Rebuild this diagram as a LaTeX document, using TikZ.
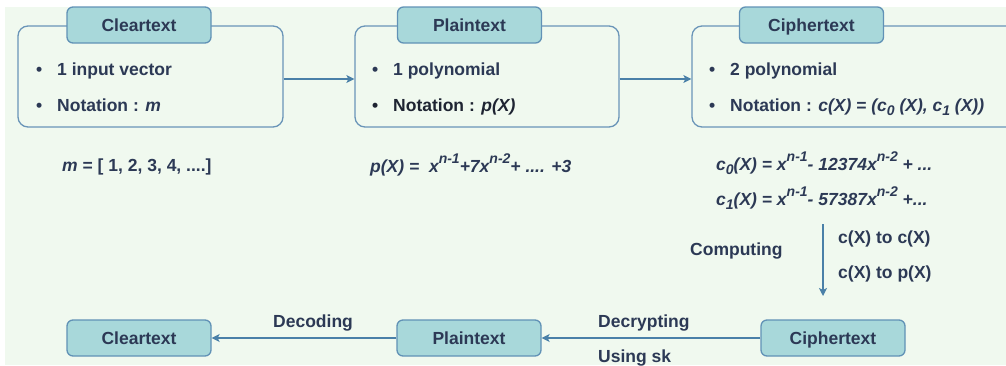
\documentclass[tikz,border=0pt]{standalone}
\usepackage{fontspec}
\setmainfont{Liberation Sans}
\usetikzlibrary{arrows.meta,calc}
\definecolor{bg}{HTML}{F0F9EF}
\definecolor{tfill}{HTML}{A8D8DA}
\definecolor{tdraw}{HTML}{6192B6}
\definecolor{gdraw}{HTML}{6A95B8}
\definecolor{ink}{HTML}{2C3955}
\definecolor{inkdark}{HTML}{1E2432}
\definecolor{arrc}{HTML}{4A80A8}
\newcommand\spr[1]{\raisebox{0.48em}{\fontsize{14pt}{14pt}\selectfont #1}}
\newcommand\sbs[1]{\raisebox{-0.28em}{\fontsize{14pt}{14pt}\selectfont #1}}
\newcommand\bul{\makebox[21pt][l]{\textbullet}}
\tikzset{
  group/.style={draw=gdraw, line width=1.3pt, rounded corners=10pt, fill=none},
  titlebox/.style={draw=tdraw, line width=1.3pt, fill=tfill, rounded corners=6pt,
    minimum width=144pt, minimum height=36pt, text height=12.5pt, text depth=0pt, inner sep=0pt},
  txt/.style={inner sep=0pt, anchor=base west},
  arr/.style={draw=arrc, line width=1.2pt, -{Stealth[length=8pt,width=8pt,inset=2pt]}},
}
\begin{document}
\begin{tikzpicture}[x=1pt,y=-1pt,font=\fontsize{17.5pt}{20pt}\selectfont\bfseries,text=ink]
\useasboundingbox (0,0) rectangle (1006,365);
\fill[white] (0,0) rectangle (1006,365);
\fill[bg] (5,7) rectangle (1006,365);
\clip (0,0) rectangle (1006,365);

% groups
\node[group, minimum width=265pt, minimum height=101pt] (g1) at (150.5,76.5) {};
\node[group, minimum width=264pt, minimum height=101pt] (g2) at (487,76.5) {};
\node[group, minimum width=348pt, minimum height=101pt] (g3) at (866,76.5) {};

% titles
\node[titlebox] (t1) at (139,25) {Cleartext};
\node[titlebox] (t2) at (469.5,25) {Plaintext};
\node[titlebox] (t3) at (811.5,25) {Ciphertext};

% bullets
\node[txt] (a1) at (36,75) {\bul 1 input vector};
\node[txt] (a2) at (36,111) {\bul Notation : \textit{m}};
\node[txt] (b1) at (372,75) {\bul 1 polynomial};
\node[txt, text=inkdark] (b2) at (372,111) {\bul Notation : \textit{p(X)}};
\node[txt] (c1) at (709,75) {\bul 2 polynomial};
\node[txt] (c2) at (709,111) {\bul Notation : \textit{c(X) = (c\sbs{0} (X), c\sbs{1} (X))}};

% formulas
\node[txt] (fm) at (62,171) {\textit{m} = [ 1, 2, 3, 4, ....]};
\node[txt] (fp) at (370,172) {\itshape p(X) =\ \ x\spr{n-1}+7x\spr{n-2}+ .... +3};
\node[txt] (fc0) at (716,170) {\itshape c\sbs{0}(X) = x\spr{n-1}- 12374x\spr{n-2} + ...};
\node[txt] (fc1) at (716,205) {\itshape c\sbs{1}(X) = x\spr{n-1}- 57387x\spr{n-2} +...};

% labels
\node[txt] (lcomp) at (690,255) {Computing};
\node[txt] (lcc) at (838,243) {c(X) to c(X)};
\node[txt] (lcp) at (838,278) {c(X) to p(X)};
\node[txt] (ldec) at (598,327) {Decrypting};
\node[txt] (lsk) at (598,362) {Using sk};
\node[txt] (ldcd) at (273,327) {Decoding};

% bottom boxes
\node[titlebox] (B1) at (139,338) {Cleartext};
\node[titlebox] (B2) at (469,338) {Plaintext};
\node[titlebox] (B3) at (833,338) {Ciphertext};

% connectors
\draw[arr] ([yshift=-2.5pt]g1.east) -- ([yshift=-2.5pt]g2.west);
\draw[arr] ([yshift=-2.5pt]g2.east) -- ([yshift=-2.5pt]g3.west);
\coordinate (vs) at (823,224);
\coordinate (ve) at (823,296);
\draw[arr] (vs) -- (ve);
\draw[arr] (B3.west) -- (B2.east);
\draw[arr] (B2.west) -- (B1.east);
\end{tikzpicture}
\end{document}
